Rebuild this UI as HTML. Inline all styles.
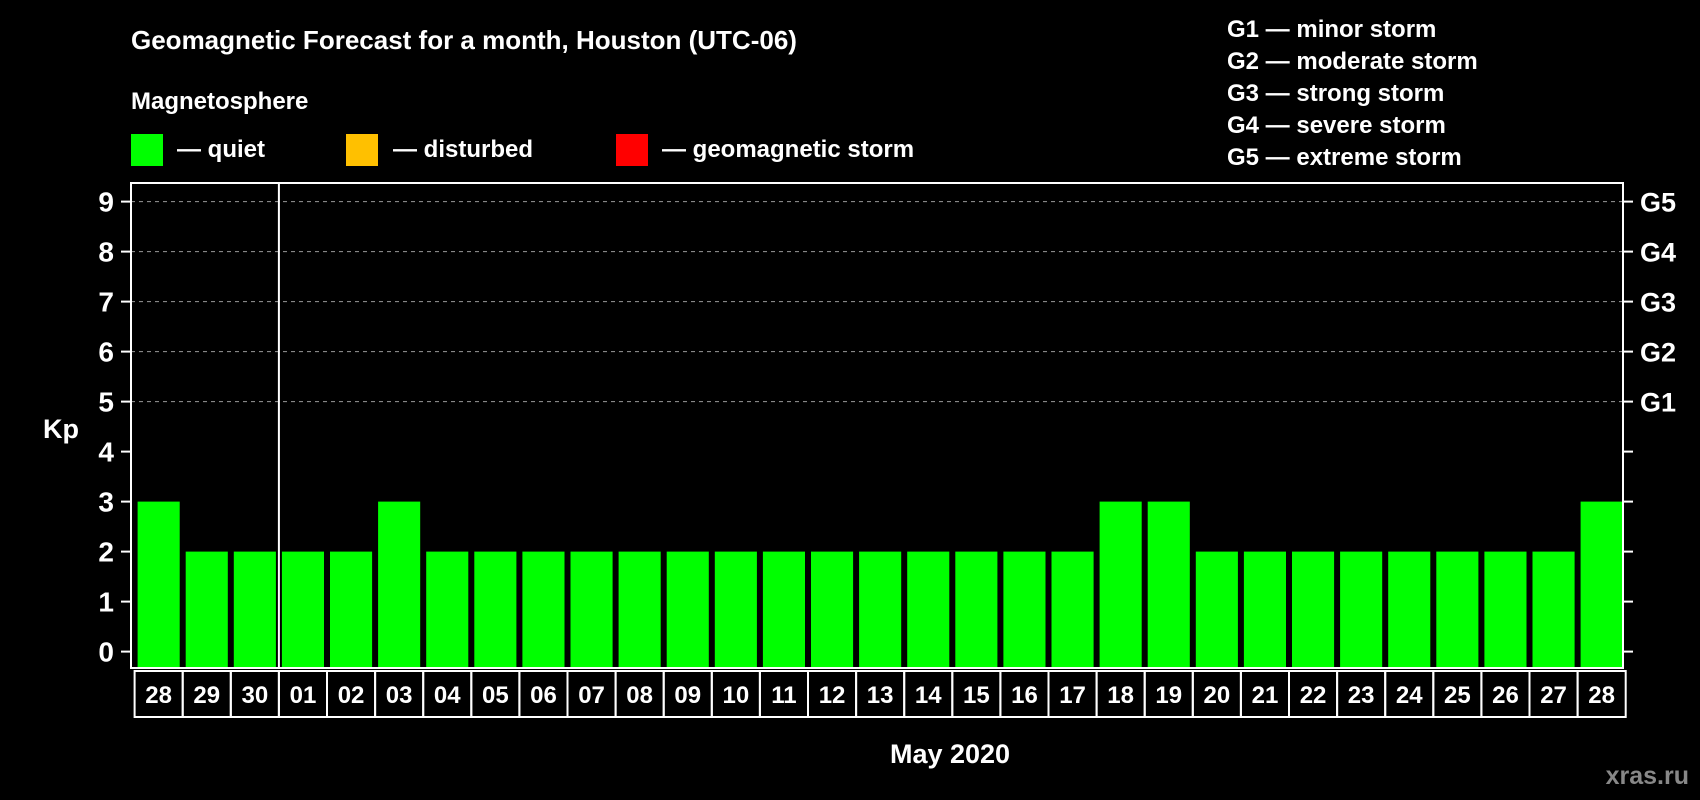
<!DOCTYPE html>
<html><head><meta charset="utf-8"><style>
html,body{margin:0;padding:0;background:#000;}
svg{display:block;font-family:"Liberation Sans",Arial,sans-serif;font-weight:bold;}
</style></head><body>
<svg id="chart" width="1700" height="800" viewBox="0 0 1700 800" xmlns="http://www.w3.org/2000/svg">
<rect width="1700" height="800" fill="#000"/>
<text x="131" y="49" fill="#fff" font-size="26">Geomagnetic Forecast for a month, Houston (UTC-06)</text>
<text x="131" y="109" fill="#fff" font-size="24">Magnetosphere</text>
<rect x="131" y="134" width="32" height="32" fill="#00ff00"/>
<text x="177" y="157" fill="#fff" font-size="24">— quiet</text>
<rect x="346" y="134" width="32" height="32" fill="#ffc000"/>
<text x="393" y="157" fill="#fff" font-size="24">— disturbed</text>
<rect x="616" y="134" width="32" height="32" fill="#ff0000"/>
<text x="662" y="157" fill="#fff" font-size="24">— geomagnetic storm</text>
<g fill="#fff" font-size="24">
<text x="1227" y="37">G1 — minor storm</text>
<text x="1227" y="69">G2 — moderate storm</text>
<text x="1227" y="101">G3 — strong storm</text>
<text x="1227" y="133">G4 — severe storm</text>
<text x="1227" y="165">G5 — extreme storm</text>
</g>
<text x="43" y="438" fill="#fff" font-size="27">Kp</text>
<text x="950" y="763" fill="#fff" font-size="27" text-anchor="middle">May 2020</text>
<text x="1689" y="784" fill="#888" font-size="25" text-anchor="end">xras.ru</text>
<g id="grid"></g><g id="bars"></g><g id="axes"></g><g id="xlabels"></g>
</svg>
<script>
const days = ["28","29","30","01","02","03","04","05","06","07","08","09","10","11","12","13","14","15","16","17","18","19","20","21","22","23","24","25","26","27","28"];
const kp = [3,2,2,2,2,3,2,2,2,2,2,2,2,2,2,2,2,2,2,2,3,3,2,2,2,2,2,2,2,2,3];
const yTicks = [0,1,2,3,4,5,6,7,8,9];
const gLabels = ["G1","G2","G3","G4","G5"];
const gLevels = [5,6,7,8,9];
const monthStart = 3;

const NS="http://www.w3.org/2000/svg";
const L=131, R=1623, T=183, B=668;
const slotX0=134.6, slot=(R-slotX0+2.7)/days.length;
function y(v){return 651.6 - v*50;}
function xs(i){return slotX0 + i*slot;}
function mk(tag, attrs, parent){const e=document.createElementNS(NS,tag);for(const k in attrs)e.setAttribute(k,attrs[k]);parent.appendChild(e);return e;}
const grid=document.getElementById('grid'), bars=document.getElementById('bars'), axes=document.getElementById('axes'), xl=document.getElementById('xlabels');

gLevels.forEach((v,i)=>{
  const ln=mk('line',{x1:L,x2:R,y1:y(v),y2:y(v),stroke:'#999','stroke-dasharray':'4 4','stroke-width':1},grid);
  
  
  const t=mk('text',{x:1640,y:y(v)+10,fill:'#fff','font-size':27},axes);
  t.textContent=gLabels[i];
  
  
});
yTicks.forEach(v=>{
  mk('line',{x1:L-10,x2:L,y1:y(v),y2:y(v),stroke:'#fff','stroke-width':2},axes);
  mk('line',{x1:R,x2:R+10,y1:y(v),y2:y(v),stroke:'#fff','stroke-width':2},axes);
  const t=mk('text',{x:114,y:y(v)+10,fill:'#fff','font-size':28,'text-anchor':'end'},axes);
  t.textContent=v;
  
  
});
kp.forEach((v,i)=>{
  const b=mk('rect',{x:xs(i)+3,y:y(v),width:slot-6,height:B-y(v),fill:v>=5?'#ff0000':(v>=4?'#ffc000':'#00ff00')},bars);
  
  
  const c=mk('rect',{x:xs(i),y:B+3,width:slot,height:46,fill:'none',stroke:'#fff','stroke-width':2},xl);
  
  
  const t=mk('text',{x:xs(i)+slot/2,y:B+35,fill:'#fff','font-size':24,'text-anchor':'middle'},xl);
  t.textContent=days[i];
  
  
});
const sep=mk('line',{x1:xs(monthStart),x2:xs(monthStart),y1:T,y2:B,stroke:'#fff','stroke-width':2},axes);


const frame=mk('rect',{x:L,y:T,width:R-L,height:B-T,fill:'none',stroke:'#fff','stroke-width':2},axes);


</script>
</body></html>
